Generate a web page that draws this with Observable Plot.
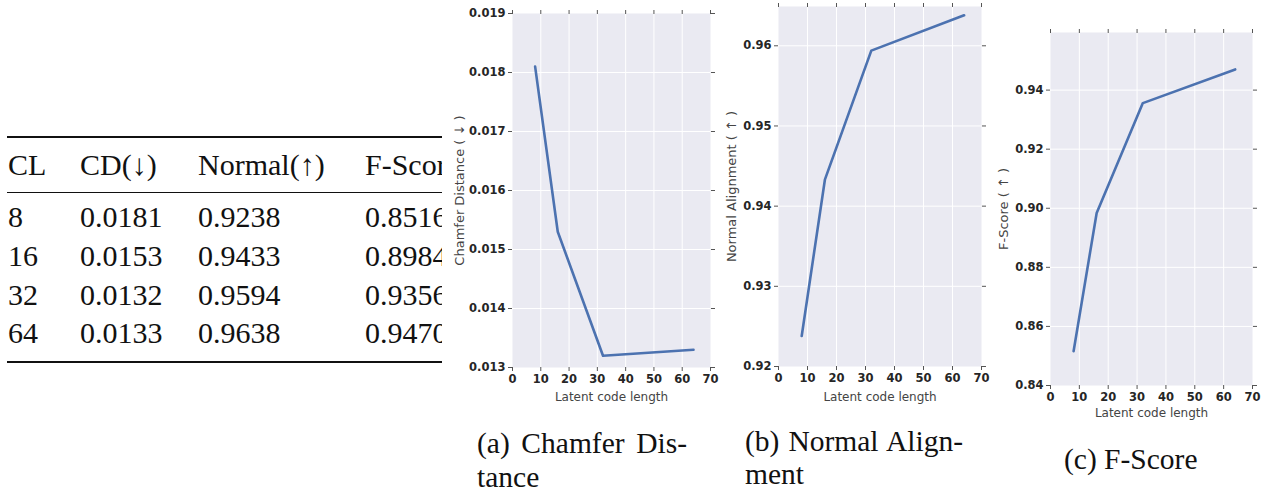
<!DOCTYPE html>
<html><head><meta charset="utf-8">
<script src="https://cdn.jsdelivr.net/npm/d3@7"></script>
<script src="https://cdn.jsdelivr.net/npm/@observablehq/plot@0.6"></script>
<style>
body{margin:0;background:#fff;}
#root{position:relative;width:1271px;height:493px;overflow:hidden;background:#fff;}
.tbl{position:absolute;left:0;top:0;width:442px;height:400px;overflow:hidden;font-family:"Liberation Serif","Times New Roman",serif;font-size:30px;color:#111;}
.cell{position:absolute;line-height:30px;white-space:nowrap;}
.rule{position:absolute;left:7px;width:520px;background:#111;}
.cap{position:absolute;font-family:"Liberation Serif","Times New Roman",serif;font-size:29.5px;line-height:34px;white-space:nowrap;color:#111;}
.just{text-align:justify;text-align-last:justify;white-space:normal;}
svg.pl{position:absolute;top:0;}
</style></head><body><div id="root"></div>
<script>
// ---- data ----
const CL = [8, 16, 32, 64];
const CD = [0.0181, 0.0153, 0.0132, 0.0133];
const NA = [0.9238, 0.9433, 0.9594, 0.9638];
const FS = [0.8516, 0.8984, 0.9356, 0.9470];
const headers = ["CL", "CD(↓)", "Normal(↑)", "F-Score(↑)"];
const xTicks = [0, 10, 20, 30, 40, 50, 60, 70];
const cdTicks = [0.013, 0.014, 0.015, 0.016, 0.017, 0.018, 0.019];
const naTicks = [0.92, 0.93, 0.94, 0.95, 0.96];
const fsTicks = [0.84, 0.86, 0.88, 0.90, 0.92, 0.94];
const yLabels = ["Chamfer Distance ( ↓ )", "Normal Alignment ( ↑ )", "F-Score ( ↑ )"];
const xLabel = "Latent code length";
const captionA = ["(a) Chamfer Dis-", "tance"];
const captionB = ["(b) Normal Align-", "ment"];
const captionC = ["(c) F-Score"];

const root = document.getElementById("root");

// ---- table ----
const tbl = document.createElement("div");
tbl.className = "tbl";
root.appendChild(tbl);
const colX = [8, 80, 198, 365];
const rowC = [217, 256, 294.5, 333];
function cell(txt, x, cy) {
  const d = document.createElement("div");
  d.className = "cell";
  d.style.left = x + "px";
  d.style.top = (cy - 15) + "px";
  d.textContent = txt;
  tbl.appendChild(d);
}
function rule(y, h) {
  const d = document.createElement("div");
  d.className = "rule";
  d.style.top = y + "px";
  d.style.height = h + "px";
  tbl.appendChild(d);
}
rule(136, 2); rule(192, 1); rule(361, 2);
headers.forEach((h, j) => cell(h, colX[j], 165));
CL.forEach((c, i) => {
  cell(String(c), colX[0], rowC[i]);
  cell(CD[i].toFixed(4), colX[1], rowC[i]);
  cell(NA[i].toFixed(4), colX[2], rowC[i]);
  cell(FS[i].toFixed(4), colX[3], rowC[i]);
});

// ---- charts ----
function chart(o) {
  const data = CL.map((c, i) => ({x: c, y: o.values[i]}));
  const innerX = xTicks.slice(1, -1);
  const innerY = o.yTicks.filter(v => v > o.yDomain[0] + 1e-9 && v < o.yDomain[1] - 1e-9);
  const lab = {fontFamily: "DejaVu Sans", fontWeight: "bold", fontSize: 11.5, fill: "#262626"};
  const tk = {stroke: "#555", strokeWidth: 1};
  const svg = Plot.plot({
    width: o.w, height: o.h,
    marginLeft: o.ml, marginRight: o.mr, marginTop: o.mt, marginBottom: o.mb,
    style: {background: "transparent", overflow: "visible", fontFamily: "DejaVu Sans"},
    x: {domain: [0, 70]},
    y: {domain: o.yDomain},
    marks: [
      Plot.frame({fill: "#eaeaf2", stroke: null}),
      Plot.gridX(innerX, {stroke: "#fff", strokeOpacity: 1, strokeWidth: 1}),
      Plot.gridY(innerY, {stroke: "#fff", strokeOpacity: 1, strokeWidth: 1}),
      Plot.axisX(xTicks, {anchor: "bottom", tickSize: 4, tickPadding: 3, label: null, tickFormat: d3.format("d"), ...lab, ...tk}),
      Plot.axisX(xTicks, {anchor: "top", tickSize: 4, label: null, tickFormat: () => "", ...tk}),
      Plot.axisY(o.yTicks, {anchor: "left", tickSize: 4, tickPadding: 3, label: null, tickFormat: d3.format(o.fmt), ...lab, ...tk}),
      Plot.axisY(o.yTicks, {anchor: "right", tickSize: 4, label: null, tickFormat: () => "", ...tk}),
      Plot.line(data, {x: "x", y: "y", stroke: "#4c72b0", strokeWidth: 2.6}),
      Plot.text([o.ylabel], {text: d => d, frameAnchor: "left", dx: o.ldx, rotate: -90, textAnchor: "middle", lineAnchor: "middle", fontSize: 13, fill: "#444", fontFamily: "DejaVu Sans"}),
      Plot.text([xLabel], {text: d => d, frameAnchor: "bottom", dy: o.xldy, textAnchor: "middle", lineAnchor: "middle", fontSize: 12, fill: "#444", fontFamily: "DejaVu Sans"})
    ]
  });
  svg.classList.add("pl");
  svg.style.left = o.left + "px";
  root.appendChild(svg);
}

chart({values: CD, yDomain: [0.013, 0.019], yTicks: cdTicks, fmt: ".3f", left: 440, w: 280, h: 410, ml: 72, mr: 10, mt: 13, mb: 43, ylabel: yLabels[0], ldx: -53, xldy: 30});
chart({values: NA, yDomain: [0.92, 0.9649], yTicks: naTicks, fmt: ".2f", left: 715, w: 280, h: 410, ml: 63, mr: 14, mt: 6, mb: 44, ylabel: yLabels[1], ldx: -47, xldy: 31});
chart({values: FS, yDomain: [0.84, 0.9595], yTicks: fsTicks, fmt: ".2f", left: 995, w: 276, h: 425, ml: 55, mr: 19, mt: 32, mb: 40, ylabel: yLabels[2], ldx: -47, xldy: 28});

// ---- captions ----
function cap(txt, x, cy, width) {
  const d = document.createElement("div");
  d.className = "cap" + (width ? " just" : "");
  d.style.left = x + "px";
  d.style.top = (cy - 17) + "px";
  if (width) d.style.width = width + "px";
  d.textContent = txt;
  root.appendChild(d);
}
cap(captionA[0], 477, 443, 210);
cap(captionA[1], 477, 477);
cap(captionB[0], 745, 441, 218);
cap(captionB[1], 745, 474);
cap(captionC[0], 1064, 459);
</script>
</body></html>
